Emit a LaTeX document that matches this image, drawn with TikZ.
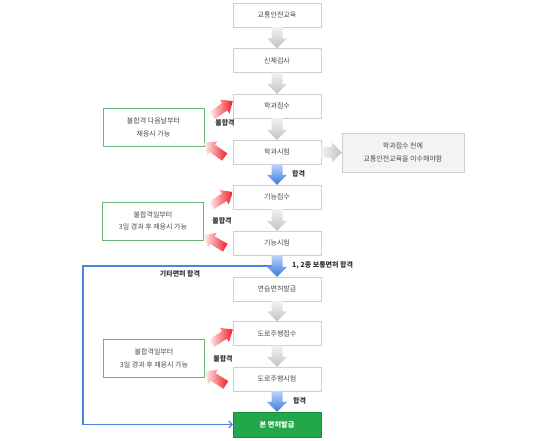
\documentclass[tikz,border=0pt]{standalone}
\usepackage{fontspec}
\newfontfamily\kr{Noto Sans CJK KR}
\usetikzlibrary{calc,arrows.meta}
\definecolor{boxgray}{HTML}{CFCFCF}
\definecolor{txtgray}{HTML}{4A4A4A}
\definecolor{lblgray}{HTML}{333333}
\definecolor{sidegreen}{HTML}{6DB37C}
\definecolor{finalgreen}{HTML}{22A84A}
\definecolor{finaledge}{HTML}{178A37}
\definecolor{notefill}{HTML}{F3F3F3}
\definecolor{arrlight}{HTML}{F2F2F2}
\definecolor{arrdark}{HTML}{C2C2C2}
\definecolor{bluelight}{HTML}{BCD4F6}
\definecolor{bluedark}{HTML}{3A7BDE}
\definecolor{blueline}{HTML}{4A86E0}
\definecolor{redlight}{HTML}{FFF0F0}
\definecolor{redmain}{HTML}{EE1C25}
\newcommand\dnarrow[3]{%
  \path[#3] ($(#1.south)+(-5.5,0)$) -- ($(#2.north)+(-5.5,10)$) -- ($(#2.north)+(-10,10)$) -- (#2.north)
    -- ($(#2.north)+(10,10)$) -- ($(#2.north)+(5.5,10)$) -- ($(#1.south)+(5.5,0)$) -- cycle;}
\newcommand\rtarrow[3]{%
  \path[#3] ($(#1.east)+(0,5.5)$) -- ($(#2.west)+(-10,5.5)$) -- ($(#2.west)+(-10,10)$) -- (#2.west)
    -- ($(#2.west)+(-10,-10)$) -- ($(#2.west)+(-10,-5.5)$) -- ($(#1.east)+(0,-5.5)$) -- cycle;}
\newcommand\redarr[2]{%
  \begin{scope}[shift={(#1)}, rotate=#2]
    \path[left color=redlight, right color=redmain] (0,0) -- (-10,8.5) -- (-10,4.5) -- (-25,4.5)
      -- (-25,-4.5) -- (-10,-4.5) -- (-10,-8.5) -- cycle;
  \end{scope}}
\begin{document}
\begin{tikzpicture}[x=1pt,y=1pt,
  font=\kr\fontsize{7}{12.5}\selectfont,
  mainbox/.style={draw=boxgray, fill=white, minimum width=88pt, minimum height=24pt, text=txtgray, inner sep=0pt},
  sidebox/.style={draw=sidegreen, fill=white, minimum width=101pt, minimum height=38pt, text=txtgray, align=center, inner sep=0pt},
  notebox/.style={draw=boxgray, fill=notefill, minimum width=122pt, minimum height=39pt, text=txtgray, align=center, inner sep=0pt},
  finalbox/.style={draw=finaledge, fill=finalgreen, minimum width=88pt, minimum height=25pt, text=white, font=\kr\bfseries\fontsize{7.2}{9}\selectfont, inner sep=0pt},
  lbl/.style={text=lblgray, font=\kr\bfseries\fontsize{7}{9}\selectfont, inner sep=0pt},
  grayfill/.style={top color=arrlight, bottom color=arrdark},
  grayfillh/.style={left color=arrlight, right color=arrdark},
  bluefill/.style={top color=bluelight, bottom color=bluedark},
  bluel/.style={draw=blueline, line width=1.6pt, -{Straight Barb[length=3pt,width=7pt,line width=1.3pt]}}
]
\useasboundingbox (0,0) rectangle (540,441);
% main column
\node[mainbox] (n1) at (277,426) {교통안전교육};
\node[mainbox] (n2) at (277,380.5) {신체검사};
\node[mainbox] (n3) at (277,335) {학과접수};
\node[mainbox] (n4) at (277,289) {학과시험};
\node[mainbox] (n5) at (277,244) {기능접수};
\node[mainbox] (n6) at (277,198) {기능시험};
\node[mainbox] (n7) at (277,152) {연습면허발급};
\node[mainbox] (n8) at (277,107.5) {도로주행접수};
\node[mainbox] (n9) at (277,62) {도로주행시험};
\node[finalbox] (n10) at (277,16.5) {본 면허발급};
% side boxes
\node[sidebox] (s1) at (153.5,313.5) {불합격 다음날부터\\재응시 가능};
\node[sidebox] (s2) at (153,220) {불합격일부터\\3일 경과 후 재응시 가능};
\node[sidebox] (s3) at (154,82.5) {불합격일부터\\3일 경과 후 재응시 가능};
\node[notebox] (r1) at (403,288.5) {학과접수 전에\\교통안전교육을 이수해야함};
% blue bypass line
\coordinate (bs) at (274,175);
\coordinate (bl) at (83,175);
\draw[bluel] (bs) -- (bl) |- (n10.west);
% block arrows
\dnarrow{n1}{n2}{grayfill}
\dnarrow{n2}{n3}{grayfill}
\dnarrow{n3}{n4}{grayfill}
\dnarrow{n4}{n5}{bluefill}
\dnarrow{n5}{n6}{grayfill}
\dnarrow{n6}{n7}{bluefill}
\dnarrow{n7}{n8}{grayfill}
\dnarrow{n8}{n9}{grayfill}
\dnarrow{n9}{n10}{bluefill}
\rtarrow{n4}{r1}{grayfillh}
% red arrows
\coordinate (ra1) at ($(n3.west)+(0,5)$);
\coordinate (rb1) at ($(s1.south east)+(0,4)$);
\coordinate (ra2) at ($(n5.west)+(0,5)$);
\coordinate (rb2) at ($(s2.south east)+(0,5)$);
\coordinate (ra3) at ($(n8.west)+(0,4)$);
\coordinate (rb3) at ($(s3.south east)+(0,6)$);
\redarr{ra1}{35}
\redarr{rb1}{145}
\redarr{ra2}{32}
\redarr{rb2}{150}
\redarr{ra3}{33}
\redarr{rb3}{148}
% labels
\node[lbl] at (225,318) {불합격};
\node[lbl] at (222,220) {불합격};
\node[lbl] at (223,82) {불합격};
\node[lbl, anchor=west] at (292,267) {합격};
\node[lbl, anchor=west] at (292,176) {1, 2종 보통면허 합격};
\node[lbl] at (180,167) {기타면허 합격};
\node[lbl, anchor=west] at (293,40) {합격};
\end{tikzpicture}
\end{document}
